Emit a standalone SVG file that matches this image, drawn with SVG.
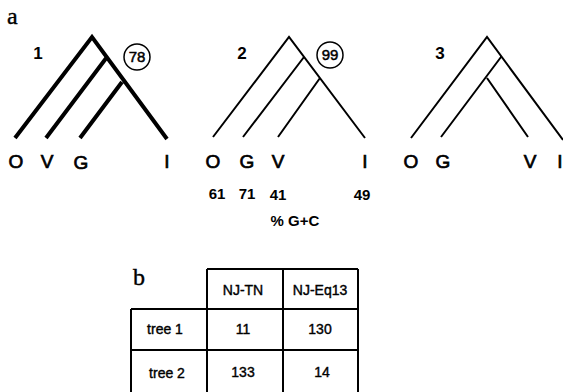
<svg xmlns="http://www.w3.org/2000/svg" width="563" height="392" viewBox="0 0 563 392">
<style>
.bg{fill:#fff}
.thick{stroke:#000;stroke-width:4;fill:none;stroke-linecap:butt;stroke-linejoin:miter}
.thin{stroke:#000;stroke-width:2;fill:none}
.leaf{font-family:"Liberation Sans",Arial,sans-serif;font-size:19px;text-anchor:middle;fill:#000;stroke:#000;stroke-width:0.7}
.num{font-family:"Liberation Sans",Arial,sans-serif;font-weight:bold;font-size:15px;text-anchor:middle;fill:#000}
.tnum{font-family:"Liberation Sans",Arial,sans-serif;font-weight:bold;font-size:17px;text-anchor:middle;fill:#000}
.cnum{font-family:"Liberation Sans",Arial,sans-serif;font-size:15px;text-anchor:middle;fill:#000;stroke:#000;stroke-width:0.5}
.cell{font-family:"Liberation Sans",Arial,sans-serif;font-size:14px;text-anchor:middle;fill:#000;stroke:#000;stroke-width:0.4}
.serif{font-family:"Liberation Serif","Times New Roman",serif;font-size:24px;fill:#000;stroke:#000;stroke-width:0.4}
.circ{fill:none;stroke:#000;stroke-width:1.5}
.grid{stroke:#000;stroke-width:2;fill:none}
</style>
<rect class="bg" width="563" height="392"/>
<text class="serif" x="7" y="24">a</text>
<g id="tree1">
<path class="thick" d="M15,138 L92,37 L167,139 M46,138 L107,57 M80,138 L122,82"/>
<text class="tnum" x="38" y="59">1</text>
<circle class="circ" cx="137" cy="57" r="13"/>
<text class="cnum" x="137" y="62">78</text>
<text class="leaf" x="16" y="168">O</text>
<text class="leaf" x="47" y="168">V</text>
<text class="leaf" x="81" y="169">G</text>
<text class="leaf" x="167" y="168">I</text>
</g>
<g id="tree2">
<path class="thin" d="M213,137 L289,37 L365,138 M243,137 L304,57 M278,137 L320,78"/>
<text class="tnum" x="242" y="59">2</text>
<circle class="circ" cx="330" cy="55" r="13"/>
<text class="cnum" x="330" y="60">99</text>
<text class="leaf" x="213" y="168">O</text>
<text class="leaf" x="247" y="168">G</text>
<text class="leaf" x="278" y="168">V</text>
<text class="leaf" x="365" y="168">I</text>
</g>
<g id="tree3">
<path class="thin" d="M411,138 L487,37 L563,140 M441,137 L501,57 M487,78 L528,137"/>
<text class="tnum" x="440" y="59">3</text>
<text class="leaf" x="411" y="168">O</text>
<text class="leaf" x="443" y="168">G</text>
<text class="leaf" x="530" y="168">V</text>
<text class="leaf" x="560" y="168">I</text>
</g>
<g id="gc">
<text class="num" x="217" y="199">61</text>
<text class="num" x="247" y="199">71</text>
<text class="num" x="278" y="200">41</text>
<text class="num" x="362" y="200">49</text>
<text class="num" x="295" y="226">% G+C</text>
</g>
<text class="serif" x="133" y="285">b</text>
<g id="table">
<path class="grid" d="M207,269 H358 M131,309 H358 M131,350 H358 M207,269 V392 M283,269 V392 M358,269 V392 M131,309 V392"/>
<text class="cell" x="243" y="295">NJ-TN</text>
<text class="cell" x="320" y="295">NJ-Eq13</text>
<text class="cell" x="165" y="334">tree 1</text>
<text class="cell" x="243" y="334">11</text>
<text class="cell" x="320" y="334">130</text>
<text class="cell" x="167" y="378">tree 2</text>
<text class="cell" x="243" y="377">133</text>
<text class="cell" x="322" y="377">14</text>
</g>
</svg>
